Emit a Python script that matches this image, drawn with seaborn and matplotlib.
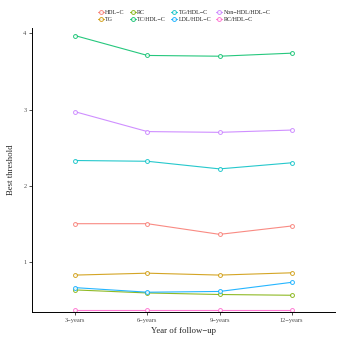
import matplotlib
matplotlib.use("Agg")
import matplotlib.pyplot as plt
from matplotlib.lines import Line2D
import seaborn as sns
import pandas as pd

# Follow-up periods and best cut-off thresholds of each lipid marker
years = ["3\u2212years", "6\u2212years", "9\u2212years", "12\u2212years"]
markers = ["HDL\u2212C", "TG", "RC", "TC/HDL\u2212C", "TG/HDL\u2212C",
           "LDL/HDL\u2212C", "Non\u2212HDL/HDL\u2212C", "RC/HDL\u2212C"]
hdl_c = [1.50, 1.50, 1.36, 1.47]
tg = [0.825, 0.85, 0.825, 0.855]
rc = [0.63, 0.59, 0.57, 0.56]
tc_hdl = [3.97, 3.71, 3.70, 3.74]
tg_hdl = [2.33, 2.32, 2.22, 2.30]
ldl_hdl = [0.66, 0.60, 0.61, 0.73]
nonhdl_hdl = [2.97, 2.71, 2.70, 2.73]
rc_hdl = [0.37, 0.37, 0.37, 0.37]
colors = ["#F8766D", "#CD9600", "#7CAE00", "#00BE67",
          "#00BFC4", "#00A9FF", "#C77CFF", "#FF61CC"]

series = [hdl_c, tg, rc, tc_hdl, tg_hdl, ldl_hdl, nonhdl_hdl, rc_hdl]
df = pd.DataFrame({
    "year": years * len(markers),
    "value": [v for s in series for v in s],
    "marker": [m for m in markers for _ in years],
})

sns.set_style("white")
plt.rcParams["font.family"] = ["Liberation Serif", "DejaVu Serif"]

fig = plt.figure(figsize=(3.61, 3.42), dpi=100)
ax = fig.add_axes([0.0886, 0.0877, 0.8394, 0.8303])

palette = dict(zip(markers, colors))
sns.lineplot(data=df, x="year", y="value", hue="marker", hue_order=markers,
             palette=palette, linewidth=0.8, alpha=0.85,
             legend=False, ax=ax, sort=False)

# open circle points on every line
for line in ax.lines:
    line.set_marker("o")
    line.set_markersize(2.8)
    line.set_markerfacecolor("white")
    line.set_markeredgecolor(line.get_color())
    line.set_markeredgewidth(0.7)
    line.set_clip_on(False)

ax.set_xlim(-0.6, 3.6)
ax.set_ylim(0.34, 4.07)
ax.set_yticks([1, 2, 3, 4])
ax.set_xlabel("Year of follow\u2212up", fontsize=6.3, labelpad=3)
ax.set_ylabel("Best threshold", fontsize=6.3, labelpad=6)
ax.tick_params(axis="both", labelsize=4.6, length=2, width=0.6,
               color="#333333", labelcolor="#4d4d4d", pad=2,
               bottom=True, left=True)
for side in ["top", "right"]:
    ax.spines[side].set_visible(False)
for side in ["left", "bottom"]:
    ax.spines[side].set_linewidth(0.7)
    ax.spines[side].set_color("black")

handles = [Line2D([0], [0], color=c, lw=0.8, alpha=0.85, marker="o",
                  markersize=2.8, markerfacecolor="white",
                  markeredgewidth=0.7)
           for c in colors]
fig.legend(handles, markers, loc="center", bbox_to_anchor=(0.51, 0.953),
           ncol=4, frameon=False, fontsize=4.3, handlelength=1.0,
           handletextpad=0.3, columnspacing=0.8, labelspacing=0.25)

fig.savefig("out.png", dpi=100)
